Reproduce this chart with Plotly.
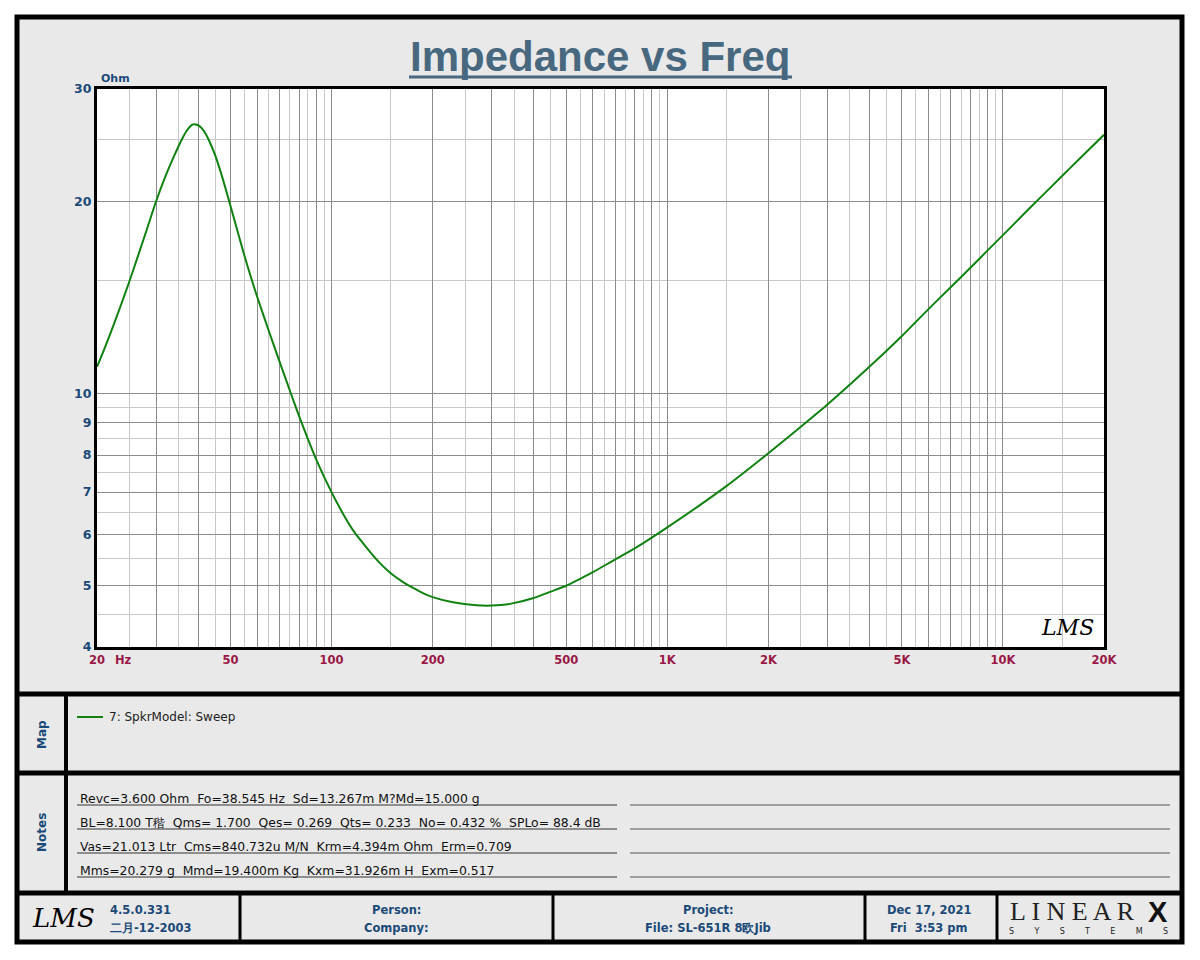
import plotly.graph_objects as go
import math

# ---------------- data ----------------
freq_hz = [20, 21, 22, 23.5, 25, 26.5, 28, 30, 32, 34, 35, 36, 37, 38, 38.5, 39, 40, 41, 42, 43,
           45, 47, 50, 52.5, 55, 57.5, 60, 65, 70, 76, 80, 85, 90, 100, 108, 117, 125, 132, 140,
           150, 162, 175, 187, 200, 230, 270, 300, 340, 400, 450, 500, 550, 600, 700, 800, 1000,
           1500, 2000, 2500, 3000, 4000, 5000, 6000, 7000, 8000, 9000, 10000, 12000, 15000,
           17000, 20000]
impedance_ohm = [11.0, 11.71, 12.47, 13.69, 15.0, 16.42, 17.91, 20.0, 21.9, 23.6, 24.4, 25.15,
                 25.8, 26.25, 26.38, 26.42, 26.32, 26.05, 25.6, 25.0, 23.6, 22.0, 19.65, 17.91,
                 16.43, 15.2, 14.17, 12.52, 11.2, 9.92, 9.21, 8.47, 7.87, 6.99, 6.48, 6.05, 5.79,
                 5.59, 5.40, 5.22, 5.07, 4.95, 4.86, 4.79, 4.7, 4.65, 4.645, 4.674, 4.773, 4.886,
                 4.99, 5.116, 5.24, 5.49, 5.71, 6.16, 7.15, 8.05, 8.86, 9.6, 11.0, 12.3, 13.55,
                 14.68, 15.73, 16.75, 17.7, 19.5, 21.91, 23.39, 25.43]

x_major = [20, 30, 40, 50, 60, 70, 80, 90, 100, 200, 300, 400, 500, 600, 700, 800, 900, 1000,
           2000, 3000, 4000, 5000, 6000, 7000, 8000, 9000, 10000, 20000]
x_labels = {20: "20", 50: "50", 100: "100", 200: "200", 500: "500", 1000: "1K", 2000: "2K",
            5000: "5K", 10000: "10K", 20000: "20K"}
x_minor = [25, 35, 45, 55, 65, 75, 85, 95, 150, 250, 350, 450, 550, 650, 750, 850, 950,
           1500, 2500, 3500, 4500, 5500, 6500, 7500, 8500, 9500, 15000]
y_major = [4, 5, 6, 7, 8, 9, 10, 20, 30]
y_minor = [4.5, 5.5, 6.5, 7.5, 8.5, 9.5, 15, 25]

series_name = "7: SpkrModel: Sweep"
notes_lines = [
    "Revc=3.600 Ohm  Fo=38.545 Hz  Sd=13.267m M?Md=15.000 g",
    "BL=8.100 T稭  Qms= 1.700  Qes= 0.269  Qts= 0.233  No= 0.432 %  SPLo= 88.4 dB",
    "Vas=21.013 Ltr  Cms=840.732u M/N  Krm=4.394m Ohm  Erm=0.709",
    "Mms=20.279 g  Mmd=19.400m Kg  Kxm=31.926m H  Exm=0.517",
]

# ---------------- geometry ----------------
W, H = 1200, 960
L, R, T, B = 97, 1104, 89, 647


def px(x):
    return (x - L) / (R - L)


def py(y):
    return (B - y) / (B - T)


PANEL = "#e9e9e9"
BLUE = "#1c4a78"
MAROON = "#9a1846"
GREEN = "#118211"
FONT = "DejaVu Sans"

fig = go.Figure()
fig.add_trace(go.Scatter(x=freq_hz, y=impedance_ohm, mode="lines",
                         line=dict(color=GREEN, width=2, shape="spline", smoothing=0.6),
                         showlegend=False, hoverinfo="skip"))

shapes = []


def rect(x0, y0, x1, y1, fill=None, lw=0, lc="black", layer="below"):
    shapes.append(dict(type="rect", xref="paper", yref="paper", x0=px(x0), x1=px(x1),
                       y0=py(y0), y1=py(y1), fillcolor=fill, layer=layer,
                       line=dict(width=lw, color=lc)))


def line(x0, y0, x1, y1, lw=1, lc="black", layer="above"):
    shapes.append(dict(type="line", xref="paper", yref="paper", x0=px(x0), x1=px(x1),
                       y0=py(y0), y1=py(y1), layer=layer, line=dict(width=lw, color=lc)))


# panel background and white plot area
rect(17, 17, 1182, 942, fill=PANEL)
rect(L, T, R, B, fill="white")
# frame lines
rect(17, 17, 1182, 942, lw=5, layer="above")
line(17, 694, 1182, 694, lw=5)
line(17, 773, 1182, 773, lw=5)
line(17, 893, 1182, 893, lw=5)
line(66, 694, 66, 893, lw=4)
for xd in [240, 553, 865, 997]:
    line(xd, 893, xd, 942, lw=3)
# title underline
line(409, 77, 792, 77, lw=3, lc="#47687f")
# notes underlines
for i in range(4):
    yy = 805 + 24 * i
    line(77, yy, 617, yy, lw=1, lc="#333333")
    line(630, yy, 1170, yy, lw=1, lc="#555555")
# legend sample line
line(77, 717, 103, 717, lw=2, lc=GREEN)

annotations = []


def text(x, y, s, size=12, color="black", xanchor="left", yanchor="middle", angle=0,
         family=FONT):
    annotations.append(dict(xref="paper", yref="paper", x=px(x), y=py(y), text=s,
                            showarrow=False, xanchor=xanchor, yanchor=yanchor, textangle=angle,
                            font=dict(size=size, color=color, family=family)))


text(600, 57, "<b>Impedance vs Freq</b>", size=42, color="#47687f", xanchor="center",
     family="Liberation Sans")
text(99, 78, "<b>Ohm</b>", size=11, color=BLUE)
text(113, 660, "<b>Hz</b>", size=11.5, color=MAROON)
text(1067, 627, "<i>LMS</i>", size=22, color="black", xanchor="center", family="DejaVu Serif")
text(42, 735, "<b>Map</b>", size=12, color=BLUE, xanchor="center", angle=-90)
text(42, 833, "<b>Notes</b>", size=12, color=BLUE, xanchor="center", angle=-90)
text(107, 717, series_name, size=12, color="#222222")
for i, s in enumerate(notes_lines):
    text(78, 798 + 24 * i, s, size=12.4, color="#111111")
# footer
text(63, 918, "<i>LMS</i>", size=26, color="black", xanchor="center", family="DejaVu Serif")
text(108, 910, "<b>4.5.0.331</b>", size=11.5, color=BLUE)
text(108, 928, "<b>二月-12-2003</b>", size=11.5, color=BLUE)
text(396, 910, "<b>Person:</b>", size=11.5, color=BLUE, xanchor="center")
text(396, 928, "<b>Company:</b>", size=11.5, color=BLUE, xanchor="center")
text(708, 910, "<b>Project:</b>", size=11.5, color=BLUE, xanchor="center")
text(708, 928, "<b>File: SL-651R 8欧Jib</b>", size=11.5, color=BLUE, xanchor="center")
text(929, 910, "<b>Dec 17, 2021</b>", size=11.5, color=BLUE, xanchor="center")
text(929, 928, "<b>Fri  3:53 pm</b>", size=11.5, color=BLUE, xanchor="center")
text(1072, 912, "L I N E A R", size=26, color="#222222", xanchor="center",
     family="Liberation Serif")
text(1158, 912, "<b>X</b>", size=29, color="#111111", xanchor="center", family="Liberation Sans")
text(1088, 931, "S        Y        S        T        E        M        S", size=8,
     color="#222222", xanchor="center")

fig.update_layout(
    width=W, height=H,
    margin=dict(l=L, r=W - R, t=T, b=H - B, pad=0),
    paper_bgcolor="white",
    plot_bgcolor="rgba(0,0,0,0)",
    shapes=shapes,
    annotations=annotations,
    showlegend=False,
    xaxis=dict(type="log", range=[math.log10(20), math.log10(20000)],
               tickmode="array", tickvals=x_major,
               ticktext=["<b>%s</b>" % x_labels[v] if v in x_labels else "" for v in x_major],
               showgrid=True, gridcolor="#8c8c8c", gridwidth=1,
               minor=dict(tickmode="array", tickvals=x_minor, showgrid=True,
                          gridcolor="#c8c8c8", gridwidth=1),
               showline=True, linecolor="black", linewidth=3, mirror=True,
               ticks="", zeroline=False,
               tickfont=dict(size=11.5, color=MAROON, family=FONT)),
    yaxis=dict(type="log", range=[math.log10(4), math.log10(30)],
               tickmode="array", tickvals=y_major,
               ticktext=["<b>%s</b>" % v for v in y_major],
               showgrid=True, gridcolor="#8c8c8c", gridwidth=1,
               minor=dict(tickmode="array", tickvals=y_minor, showgrid=True,
                          gridcolor="#c8c8c8", gridwidth=1),
               showline=True, linecolor="black", linewidth=3, mirror=True,
               ticks="", zeroline=False,
               tickfont=dict(size=12.5, color=BLUE, family=FONT)),
)

fig.write_html("out.html")
